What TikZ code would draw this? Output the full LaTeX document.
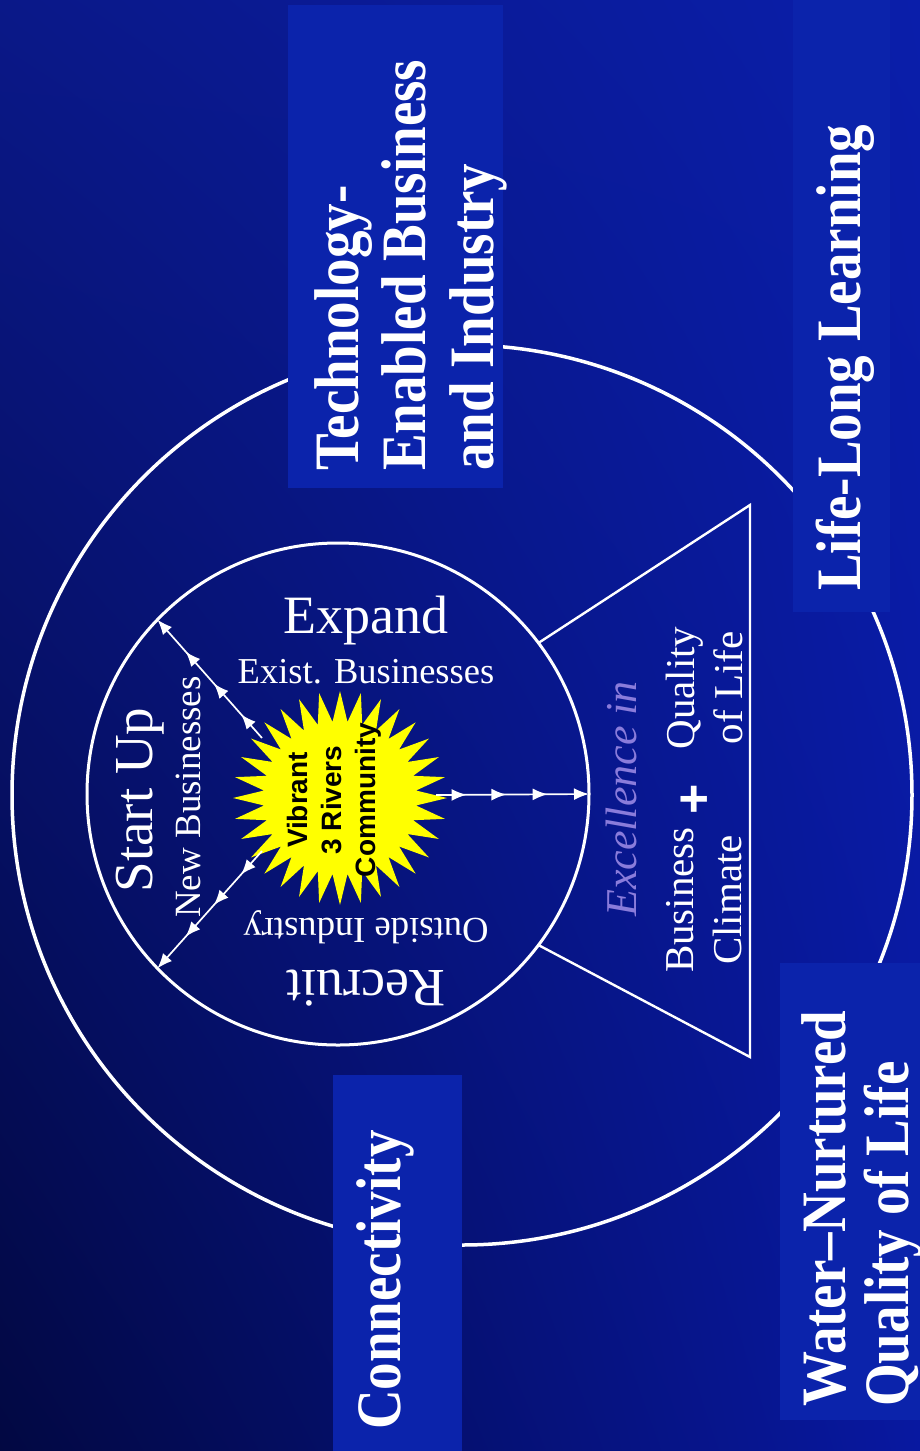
\documentclass[tikz,border=0pt]{standalone}
\usepackage{fontspec}
\setmainfont{Liberation Serif}
\newfontfamily\sunfont{Liberation Sans}
\usetikzlibrary{arrows.meta,decorations.markings,shapes.geometric,shadings}
\definecolor{bgTL}{HTML}{0A1888}
\definecolor{bgTR}{HTML}{0A1EAA}
\definecolor{bgBL}{HTML}{020842}
\definecolor{bgBR}{HTML}{0818A0}
\definecolor{boxblue}{HTML}{0B23AB}
\definecolor{sunyellow}{HTML}{FFFF00}
\definecolor{lav}{HTML}{8A7CDB}
\begin{document}
\begin{tikzpicture}[x=1pt,y=-1pt,
  ring/.style={circle, draw=white, inner sep=0pt, outer sep=0pt},
  panel/.style={fill=boxblue, draw=none, inner sep=0pt, outer sep=0pt, anchor=north west},
  title/.style={text=white, rotate=90, yscale=1.15, align=left, inner sep=0pt,
    font=\fontsize{55}{58.7}\selectfont\bfseries},
  lbl/.style={text=white, inner sep=0pt},
  tri/.style={draw=white, line width=2.4pt, line join=miter},
  flow/.style={draw=white, line width=1.7pt, -{Latex[length=15pt,width=12pt]},
    postaction={decorate},
    decoration={markings,
      mark=at position 0.20 with {\arrow{Latex[length=15pt,width=12pt]}},
      mark=at position 0.46 with {\arrow{Latex[length=15pt,width=12pt]}},
      mark=at position 0.73 with {\arrow{Latex[length=15pt,width=12pt]}}}}
]
\useasboundingbox (0,0) rectangle (920,1451);
\shade[upper left=bgTL, upper right=bgTR, lower left=bgBL, lower right=bgBR] (0,0) rectangle (920,1451);

% outer circle
\node[ring, line width=3.5pt, minimum size=900pt] (outer) at (462,795) {};

% panels
\node[panel, minimum width=215pt, minimum height=483pt] (techbox) at (288,5) {};
\node[panel, minimum width=97pt, minimum height=612pt] (lifebox) at (793,0) {};
\node[panel, minimum width=140pt, minimum height=457pt] (waterbox) at (780,963) {};
\node[panel, minimum width=129pt, minimum height=376pt] (connbox) at (333,1075) {};

% titles
\node[title, anchor=west] (tech) at (410.6,471) {Technology-\\Enabled Business\\and Industry};
\node[title, anchor=base west] (life) at (860,591) {Life-Long Learning};
\node[title, anchor=west, font=\fontsize{55}{54.8}\selectfont\bfseries] (water) at (861.5,1407) {Water–Nurtured\\Quality of Life};
\node[title, anchor=base west] (conn) at (400,1430) {Connectivity};

% triangle and inner circle
\node[ring, line width=3pt, minimum size=502pt] (inner) at (338,794) {};
\coordinate (tA) at (750,505);
\coordinate (tB) at (750,1057);
\draw[tri] (inner.37) -- (tA) -- (tB) -- (inner.-37);

% sun
\node[star, star points=32, star point ratio=1.4, minimum size=214pt, fill=sunyellow, draw=none, inner sep=0pt] (sun) at (340,798) {};
\node[text=black, rotate=90, align=center, inner sep=0pt,
  font=\sunfont\fontsize{28}{34}\selectfont\bfseries] (suntext) at (334,800) {Vibrant\\3 Rivers\\Community};

% arrows
\coordinate (s0) at (436,795);
\coordinate (s1) at (262,738);
\coordinate (s2) at (262,851);
\draw[flow] (s0) -- (inner.0);
\draw[flow] (s1) -- (inner.136);
\draw[flow] (s2) -- (inner.224);

% inner labels
\node[lbl, anchor=base, font=\fontsize{54}{60}\selectfont] (expand) at (366,633) {Expand};
\node[lbl, anchor=base, font=\fontsize{36.5}{40}\selectfont] (exist) at (366,683) {Exist. Businesses};
\node[lbl, anchor=base, rotate=90, font=\fontsize{55}{60}\selectfont] (startup) at (152,800) {Start Up};
\node[lbl, anchor=base, rotate=90, font=\fontsize{37}{40}\selectfont] (newbiz) at (200,797) {New Businesses};
\node[lbl, anchor=base, rotate=180, font=\fontsize{36.6}{40}\selectfont] (outside) at (366,918) {Outside Industry};
\node[lbl, anchor=base, rotate=180, font=\fontsize{54}{60}\selectfont] (recruit) at (366,970) {Recruit};

% excellence
\node[lbl, text=lav, anchor=base, rotate=90, font=\fontsize{44}{48}\selectfont\itshape] (excel) at (636,799) {Excellence in};
\node[lbl, rotate=90, align=center, font=\fontsize{41}{48}\selectfont] (bc) at (704,900) {Business\\Climate};
\node[lbl, rotate=90, align=center, font=\fontsize{41}{48}\selectfont] (ql) at (704,688) {Quality\\of Life};
\node[lbl, rotate=90, font=\sunfont\fontsize{52}{52}\selectfont\bfseries] (plus) at (696,799) {+};
\end{tikzpicture}
\end{document}
